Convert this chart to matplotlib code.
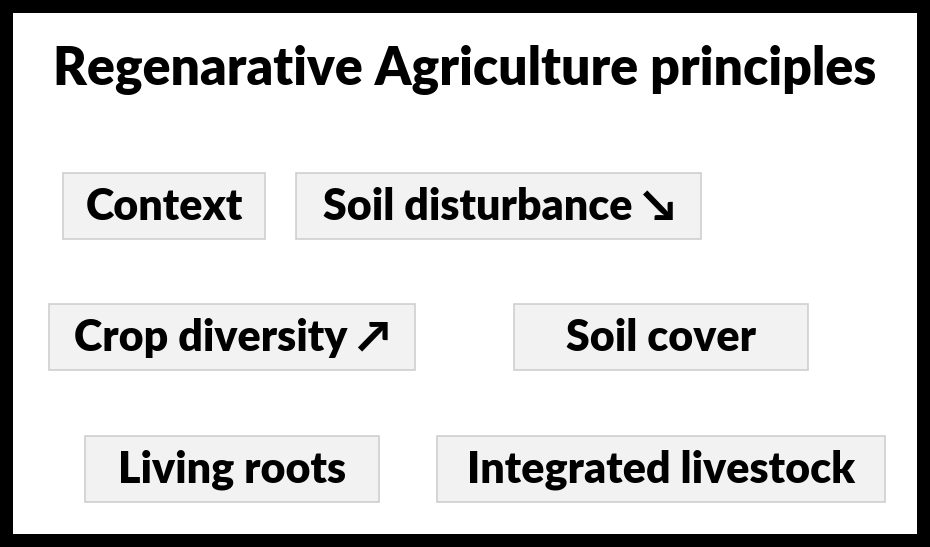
import matplotlib.pyplot as plt
from matplotlib.patches import Rectangle

plt.rcParams['font.family'] = ['Lato', 'DejaVu Sans']

title = "Regenarative Agriculture principles"
labels = ["Context", "Soil disturbance \u2198", "Crop diversity \u2197",
          "Soil cover", "Living roots", "Integrated livestock"]

# box layout in pixels: left, top, right, bottom
boxes = [(63, 173, 265, 239), (296, 173, 701, 239),
         (49, 304, 415, 370), (514, 304, 808, 370),
         (85, 436, 379, 502), (437, 436, 885, 502)]

W, H = 930, 547
fig = plt.figure(figsize=(W / 100, H / 100), dpi=100)
fig.patch.set_facecolor('black')
ax = fig.add_axes([0, 0, 1, 1])
ax.set_xlim(0, W)
ax.set_ylim(H, 0)
ax.axis('off')

# white panel inside the black frame
ax.add_patch(Rectangle((13, 13), 917 - 13, 534 - 13, facecolor='white', edgecolor='none'))

ax.text(465, 70, title, ha='center', va='center', fontsize=37.3, fontweight='heavy', color='black')

for label, (l, t, r, b) in zip(labels, boxes):
    ax.add_patch(Rectangle((l, t), r - l, b - t, facecolor='#f2f2f2',
                           edgecolor='#cfcfcf', linewidth=1.2))
    ax.text((l + r) / 2, (t + b) / 2 + 1, label, ha='center', va='center',
            fontsize=31, fontweight='heavy', color='black')

fig.savefig('out.png', dpi=100, facecolor=fig.get_facecolor())
